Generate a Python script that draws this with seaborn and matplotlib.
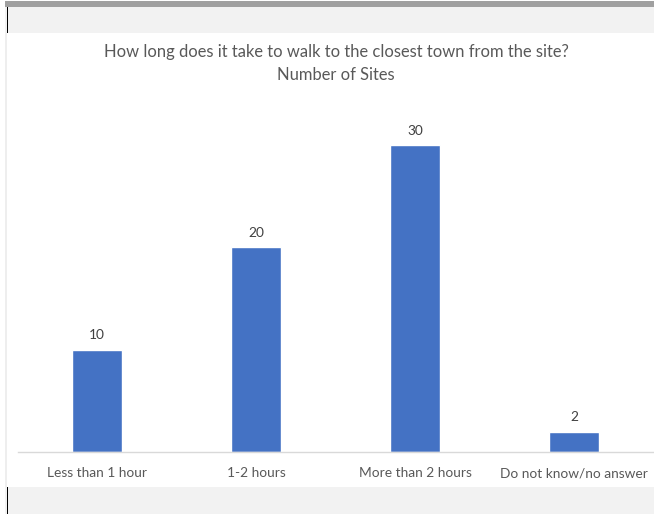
import matplotlib
matplotlib.use("Agg")
import matplotlib.pyplot as plt
import seaborn as sns
import pandas as pd
from matplotlib.patches import Rectangle

categories = ["Less than 1 hour", "1-2 hours", "More than 2 hours", "Do not know/no answer"]
values = [10, 20, 30, 2]
title_lines = ["How long does it take to walk to the closest town from the site?", "Number of Sites"]

sns.set_theme(style="white")
plt.rcParams["font.family"] = ["Lato", "DejaVu Sans"]

W, H = 654, 514
fig = plt.figure(figsize=(W / 100, H / 100), dpi=100, facecolor="white")

def px_rect(x0, y0, x1, y1, color):
    fig.patches.append(Rectangle((x0 / W, 1 - y1 / H), (x1 - x0) / W, (y1 - y0) / H,
                                 transform=fig.transFigure, color=color, zorder=0, lw=0))

# screenshot decorations
px_rect(5, 1, 654, 7, "#a0a0a0")
px_rect(5, 7, 654, 33, "#f2f2f2")
px_rect(5, 487, 654, 514, "#f2f2f2")
px_rect(5, 33, 7, 487, "#eeeeee")
px_rect(7, 7, 8, 33, "#000000")
px_rect(7, 487, 8, 514, "#000000")

left, right = 17.5, 653.5
top, base = 94, 452
ax = fig.add_axes([left / W, 1 - base / H, (right - left) / W, (base - top) / H])
ax.set_facecolor("none")

df = pd.DataFrame({"category": categories, "value": values})
sns.barplot(data=df, x="category", y="value", color="#4472C4", width=0.31,
            saturation=1, ax=ax)
ax.set_ylim(0, 35)
ax.set_xlim(-0.5, 3.5)
ax.set_xlabel("")
ax.set_ylabel("")
ax.set_yticks([])
for s in ["top", "left", "right"]:
    ax.spines[s].set_visible(False)
ax.spines["bottom"].set_color("#d9d9d9")
ax.spines["bottom"].set_linewidth(1)
ax.tick_params(axis="x", length=0, pad=11, labelsize=9.9, labelcolor="#595959")

for c in ax.containers:
    ax.bar_label(c, padding=6, fontsize=9.9, color="#404040")

fig.text(336 / W, 1 - 51.5 / H, title_lines[0], ha="center", va="center",
         fontsize=11.9, color="#595959")
fig.text(336 / W, 1 - 74.5 / H, title_lines[1], ha="center", va="center",
         fontsize=11.9, color="#595959")

fig.savefig("out.png", dpi=100, facecolor="white")
